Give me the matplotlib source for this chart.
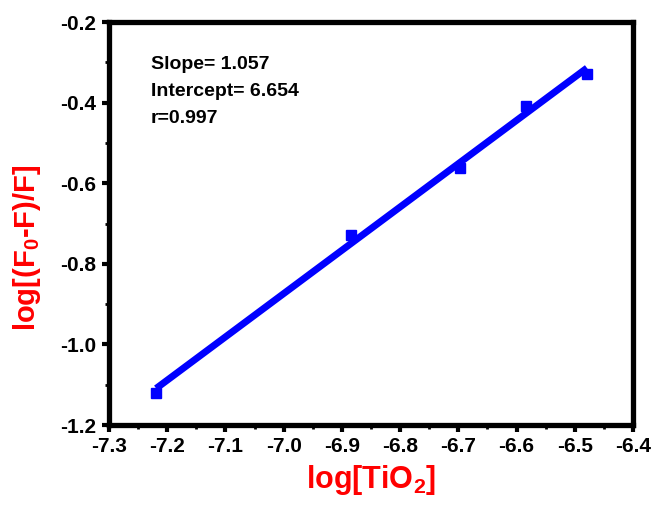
import numpy as np
import matplotlib
matplotlib.use("Agg")
import matplotlib.pyplot as plt
from matplotlib.ticker import MultipleLocator

plt.rcParams['font.family'] = ['Liberation Sans', 'DejaVu Sans']
plt.rcParams['mathtext.fontset'] = 'custom'
plt.rcParams['mathtext.rm'] = 'Liberation Sans:bold'
plt.rcParams['mathtext.it'] = 'Liberation Sans:bold'
plt.rcParams['mathtext.bf'] = 'Liberation Sans:bold'
plt.rcParams['mathtext.default'] = 'regular'

# data
log_tio2 = [-7.219, -6.885, -6.697, -6.583, -6.479]
log_quench = [-1.120, -0.728, -0.562, -0.408, -0.330]
annotation = ["Slope= 1.057", "Intercept= 6.654", "r=0.997"]
xticks = [-7.3, -7.2, -7.1, -7.0, -6.9, -6.8, -6.7, -6.6, -6.5, -6.4]
yticks = [-1.2, -1.0, -0.8, -0.6, -0.4, -0.2]

fig = plt.figure(figsize=(6.54, 5.09), dpi=100)
ax = fig.add_axes([109/654, 1 - 425/509, 524/654, 403/509])

x = np.array(log_tio2)
y = np.array(log_quench)
k, b = np.polyfit(x, y, 1)
xl = np.array([x.min(), x.max()])
ax.plot(xl, k * xl + b, color='#0000ff', lw=5, solid_capstyle='butt', zorder=2)
ax.plot(x, y, 's', color='#0000ff', ms=6.5, zorder=3)

ax.set_xlim(-7.3, -6.4)
ax.set_ylim(-1.2, -0.2)
ax.set_xticks(xticks)
ax.set_xticklabels([f"{v:.1f}" for v in xticks])
ax.set_yticks(yticks)
ax.set_yticklabels([f"{v:.1f}" for v in yticks])
ax.xaxis.set_minor_locator(MultipleLocator(0.05))
ax.yaxis.set_minor_locator(MultipleLocator(0.1))

for s in ax.spines.values():
    s.set_linewidth(3.8)
ax.tick_params(which='major', direction='out', length=5, width=3, labelsize=15, pad=4)
ax.tick_params(which='minor', direction='out', length=3, width=2)
for lab in ax.get_xticklabels() + ax.get_yticklabels():
    lab.set_fontweight('bold')

ax.text(0.08, 0.915, "\n".join(annotation), transform=ax.transAxes,
        fontsize=14, fontweight='bold', va='top', ha='left', linespacing=1.75)

ax.set_xlabel(r"log[TiO$_{2}$]", color='#ff0000', fontsize=22, fontweight='bold')
ax.set_ylabel(r"log[(F$_{0}$-F)/F]", color='#ff0000', fontsize=21, fontweight='bold')
ax.xaxis.set_label_coords(0.5, -0.095)
ax.yaxis.set_label_coords(-0.125, 0.44)

fig.savefig("out.png", dpi=100)
